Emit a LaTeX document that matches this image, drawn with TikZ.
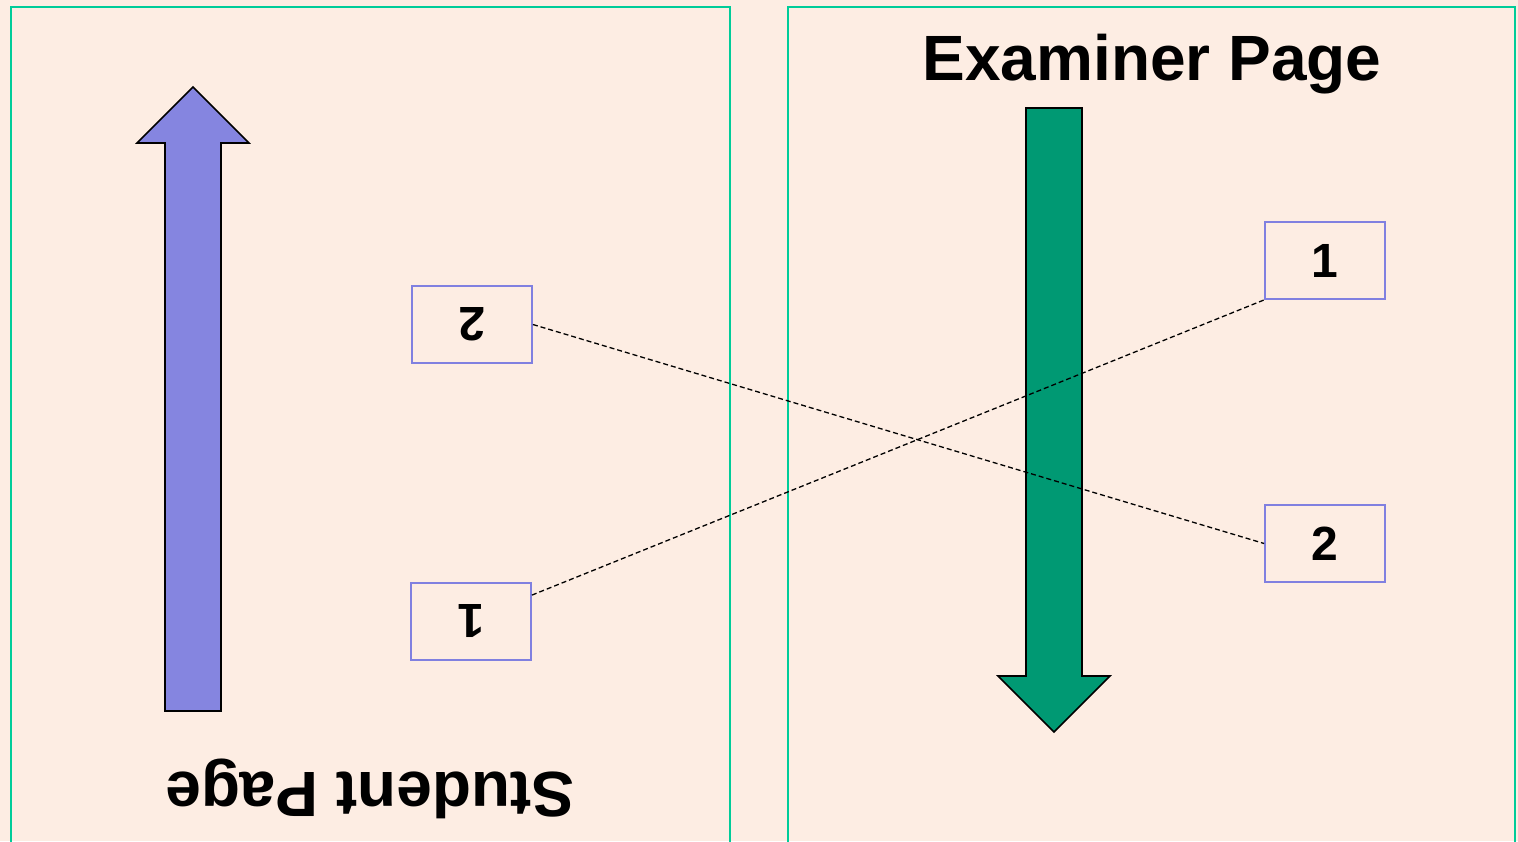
\documentclass[tikz,border=0pt]{standalone}
\usepackage{fontspec}
\setmainfont{Liberation Sans}
\usetikzlibrary{calc}
\definecolor{bgpeach}{RGB}{253,237,227}
\definecolor{panelgreen}{RGB}{0,204,153}
\definecolor{boxblue}{RGB}{128,128,224}
\definecolor{arrowblue}{RGB}{133,133,224}
\definecolor{arrowgreen}{RGB}{0,153,115}
\tikzset{
  panel/.style={draw=panelgreen, line width=2pt},
  numbox/.style={draw=boxblue, line width=1.8pt, minimum width=120pt, minimum height=77pt, inner sep=0pt, font=\fontsize{48}{48}\selectfont\bfseries},
  bigarrow/.style={draw=black, line width=1.6pt, line join=miter},
  title/.style={font=\fontsize{64}{64}\selectfont\bfseries, inner sep=0pt},
  link/.style={draw=black, line width=1.3pt, dash pattern=on 5pt off 3pt}
}
\begin{document}
\begin{tikzpicture}[x=1pt, y=-1pt]
\useasboundingbox (0,0) rectangle (1518,841);
\fill[bgpeach] (0,0) rectangle (1518,841);
% panels
\draw[panel] (11,850) -- (11,7) -- (730,7) -- (730,850);
\draw[panel] (788,850) -- (788,7) -- (1515,7) -- (1515,850);
% arrows
\filldraw[bigarrow, fill=arrowblue] (193,87) -- (249,143) -- (221,143) -- (221,711) -- (165,711) -- (165,143) -- (137,143) -- cycle;
\filldraw[bigarrow, fill=arrowgreen] (1054,732) -- (1110,676) -- (1082,676) -- (1082,108) -- (1026,108) -- (1026,676) -- (998,676) -- cycle;
% titles
\node[title, anchor=base] (examiner) at (1152,80) {Examiner Page};
\node[title, anchor=base, rotate=180] (student) at (370,772) {Student Page};
% boxes
\node[numbox, rotate=180] (l2) at (472,324.5) {2};
\node[numbox, rotate=180] (l1) at (471,621.5) {1};
\node[numbox] (r1) at (1325,260.5) {1};
\node[numbox] (r2) at (1325,543.5) {2};
% links
\draw[link] (l2.west) -- (r2.west);
\draw[link] ($(l1.south west)+(0,13)$) -- (r1.south west);
\end{tikzpicture}
\end{document}
